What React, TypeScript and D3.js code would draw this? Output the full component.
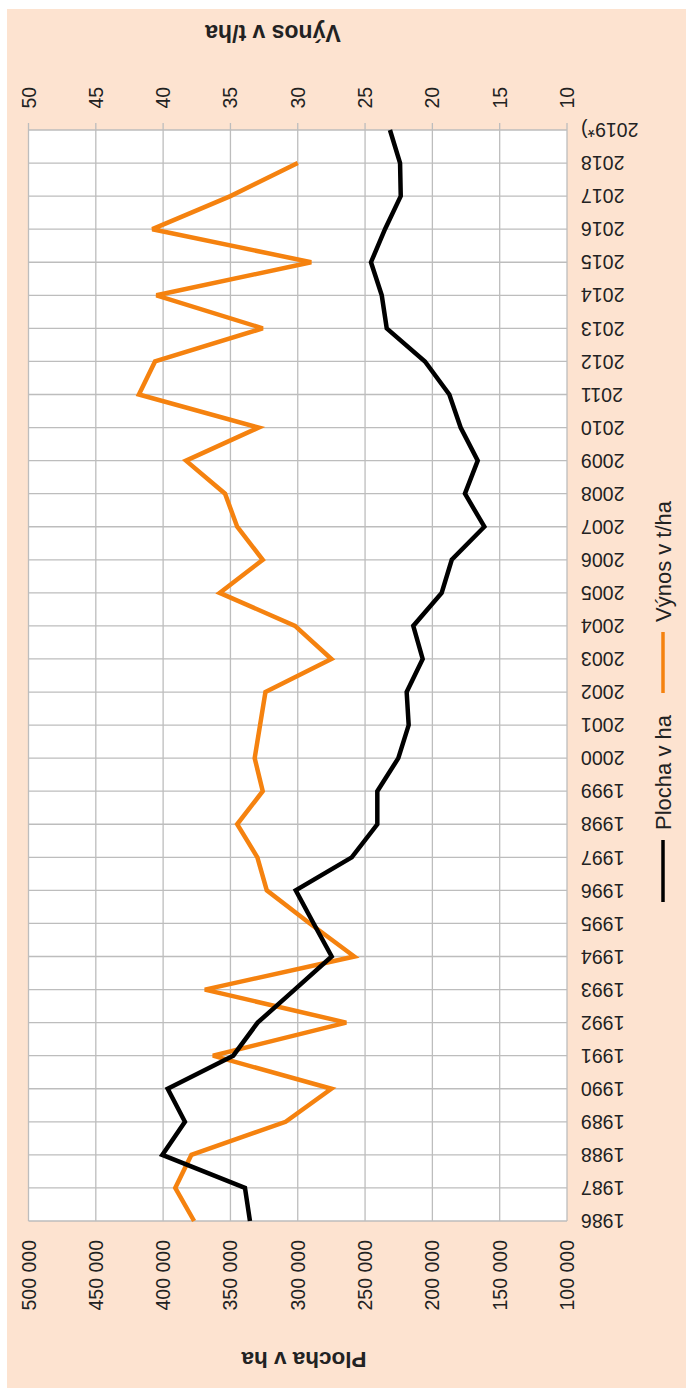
import * as d3 from "d3";

const years = [
  "1986", "1987", "1988", "1989", "1990", "1991", "1992", "1993", "1994", "1995",
  "1996", "1997", "1998", "1999", "2000", "2001", "2002", "2003", "2004", "2005",
  "2006", "2007", "2008", "2009", "2010", "2011", "2012", "2013", "2014", "2015",
  "2016", "2017", "2018", "2019*)",
];

// Plocha v ha (area)
const plocha = [
  335500, 339200, 400600, 383800, 396600, 347900, 329800, 302300, 274800, 288200,
  301500, 259900, 240900, 240900, 225300, 217600, 219100, 207200, 214200, 193100,
  185600, 161400, 175800, 166300, 179000, 187400, 205500, 233900, 237600, 245600,
  235200, 223500, 224000, 231500,
];

// Výnos v t/ha (yield), no value for 2019
const vynos = [
  37.7, 39.1, 37.9, 30.9, 27.5, 36.3, 26.4, 36.9, 25.8, 29.1,
  32.3, 33.0, 34.5, 32.6, 33.2, 32.8, 32.4, 27.5, 30.2, 35.8,
  32.6, 34.5, 35.4, 38.3, 32.9, 41.8, 40.6, 32.6, 40.5, 29.0,
  40.8, 35.0, 30.0,
];

const areaTicks = [500000, 450000, 400000, 350000, 300000, 250000, 200000, 150000, 100000];
const yieldTicks = [50, 45, 40, 35, 30, 25, 20, 15, 10];

const W = 686;
const H = 1388;
const PLOT = { left: 28.5, right: 567, top: 130, bottom: 1221 };
const GRID = "#bdbdbd";
const TEXT = "#222222";
const FONT = "'Liberation Sans', Arial, Helvetica, sans-serif";

const App = () => {
  const yScale = d3.scalePoint<string>().domain(years).range([PLOT.bottom, PLOT.top]);
  const xArea = d3.scaleLinear().domain([500000, 100000]).range([PLOT.left, PLOT.right]);
  const xYield = d3.scaleLinear().domain([50, 10]).range([PLOT.left, PLOT.right]);

  const fmt = (v: number) => d3.format(",")(v).replace(/,/g, " ");

  const areaLine = d3
    .line<number>()
    .x((d) => xArea(d))
    .y((_, i) => yScale(years[i]) as number);
  const yieldLine = d3
    .line<number>()
    .x((d) => xYield(d))
    .y((_, i) => yScale(years[i]) as number);

  return (
    <div style={{ position: "absolute", left: 0, top: 0 }}>
      <svg width={W} height={H} style={{ display: "block", fontFamily: FONT }}>
        <rect x={7} y={9} width={W - 7} height={H - 9} fill="#fde3d0" />
        <rect
          x={PLOT.left}
          y={PLOT.top}
          width={PLOT.right - PLOT.left}
          height={PLOT.bottom - PLOT.top}
          fill="#ffffff"
        />

        {/* horizontal grid (years) */}
        {years.map((y) => (
          <line
            key={"h" + y}
            x1={PLOT.left}
            x2={PLOT.right}
            y1={yScale(y)}
            y2={yScale(y)}
            stroke={GRID}
            strokeWidth={1.3}
          />
        ))}

        {/* vertical grid (values) with outside ticks on top */}
        {areaTicks.map((v) => (
          <line
            key={"v" + v}
            x1={xArea(v)}
            x2={xArea(v)}
            y1={PLOT.top - 7}
            y2={PLOT.bottom}
            stroke={GRID}
            strokeWidth={1.3}
          />
        ))}

        {/* top axis: Výnos */}
        {yieldTicks.map((v) => (
          <text
            key={"yt" + v}
            transform={`translate(${xYield(v) + 7},${PLOT.top - 21.5}) rotate(-90)`}
            textAnchor="start"
            fontSize={19.5}
            fill={TEXT}
          >
            {v}
          </text>
        ))}

        {/* bottom axis: Plocha */}
        {areaTicks.map((v) => (
          <text
            key={"at" + v}
            transform={`translate(${xArea(v) + 7},${PLOT.bottom + 19}) rotate(-90)`}
            textAnchor="end"
            fontSize={19.5}
            fill={TEXT}
          >
            {fmt(v)}
          </text>
        ))}

        {/* year labels, upside down */}
        {years.map((y) => (
          <text
            key={"yl" + y}
            transform={`translate(${PLOT.right + 14},${yScale(y)}) rotate(180)`}
            textAnchor="end"
            dy="0.35em"
            fontSize={19.5}
            fill={TEXT}
          >
            {y}
          </text>
        ))}

        {/* data lines */}
        <path
          d={yieldLine(vynos) || ""}
          fill="none"
          stroke="#f5820f"
          strokeWidth={4.5}
          strokeLinejoin="miter"
          strokeMiterlimit={3}
        />
        <path
          d={areaLine(plocha) || ""}
          fill="none"
          stroke="#000000"
          strokeWidth={4.5}
          strokeLinejoin="miter"
          strokeMiterlimit={3}
        />

        {/* axis titles */}
        <text
          transform="translate(273,33) rotate(180)"
          textAnchor="middle"
          dy="0.35em"
          fontSize={23}
          fontWeight="bold"
          fill={TEXT}
        >
          Výnos v t/ha
        </text>
        <text
          transform="translate(304,1360) rotate(180)"
          textAnchor="middle"
          dy="0.35em"
          fontSize={22.5}
          fontWeight="bold"
          fill={TEXT}
        >
          Plocha v ha
        </text>

        {/* legend */}
        <line x1={663} x2={663} y1={840} y2={902} stroke="#000000" strokeWidth={3.5} />
        <text
          transform="translate(671,830) rotate(-90)"
          textAnchor="start"
          fontSize={22}
          fill={TEXT}
        >
          Plocha v ha
        </text>
        <line x1={663} x2={663} y1={632} y2={693} stroke="#f5820f" strokeWidth={3.5} />
        <text
          transform="translate(671,622) rotate(-90)"
          textAnchor="start"
          fontSize={22}
          fill={TEXT}
        >
          Výnos v t/ha
        </text>
      </svg>
    </div>
  );
};

export default App;
